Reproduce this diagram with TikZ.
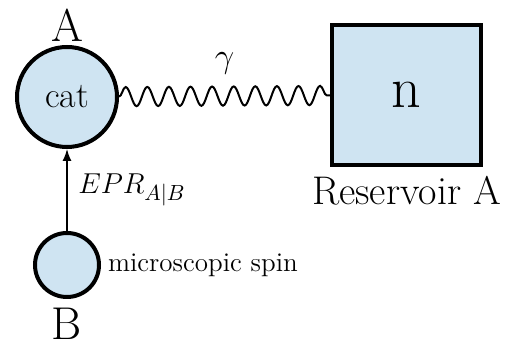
\documentclass[tikz,border=0pt]{standalone}
\usepackage{amsmath}
\usetikzlibrary{arrows.meta,positioning,decorations.pathmorphing}
\definecolor{fillblue}{RGB}{207,228,242}
\tikzset{
    site/.style={circle, draw, line width=2pt, fill=fillblue, inner sep=0pt},
    bath/.style={rectangle, draw, line width=2pt, fill=fillblue, inner sep=0pt},
    biglabel/.style={font=\fontsize{23}{27}\selectfont},
}
\begin{document}
\begin{tikzpicture}[x=0.5pt, y=-0.5pt]
        \useasboundingbox (0,0) rectangle (515,356);
        \node[site, minimum size=50pt, font=\fontsize{18}{21}\selectfont] (cat) at (67, 97) {cat};
        \node[site, minimum size=32pt] (spin) at (67, 265) {};
        \node[bath, minimum width=74.5pt, minimum height=70pt, font=\fontsize{29}{33}\selectfont] (res) at (406.5, 95) {n};
        
        \node[biglabel, above=-2pt of cat] (labA) {A};
        \node[biglabel, below=1pt of spin] (labB) {B};
        \node[font=\fontsize{20}{24}\selectfont, below=1pt of res] (labres) {Reservoir A};
        \node[right=0pt of spin, font=\fontsize{13.5}{16}\selectfont] (spintext) {microscopic spin};
        
        \draw[decorate, decoration={snake, segment length=10.8pt, amplitude=4.8pt}, line width=1pt]
            (cat) -- node[above=7pt, font=\fontsize{18}{21}\selectfont] {$\gamma$} (res);
        \draw[-{Latex[length=6pt, width=4.5pt]}, line width=0.7pt] (spin) -- node[right=2pt, font=\fontsize{15}{18}\selectfont] {$EPR_{A|B}$} (cat);
    \end{tikzpicture}
\end{document}
